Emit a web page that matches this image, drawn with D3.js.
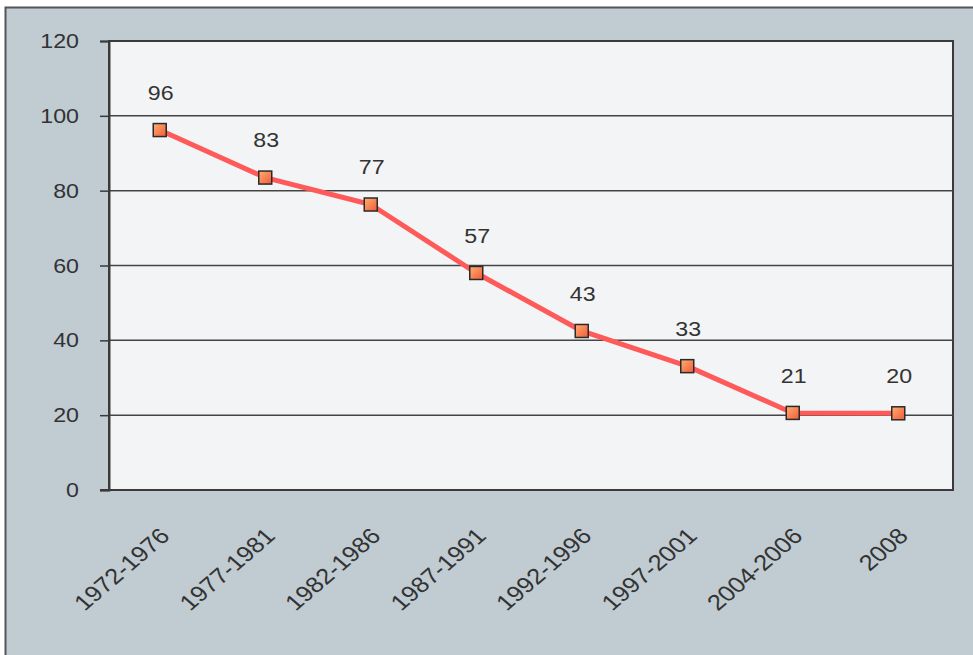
<!DOCTYPE html>
<html><head><meta charset="utf-8">
<script src="https://cdn.jsdelivr.net/npm/d3@7"></script>
<style>html,body{margin:0;padding:0;background:#fff;}svg{display:block;}</style>
</head><body>
<svg id="c" width="973" height="655"></svg>
<script>
const categories = ["1972-1976","1977-1981","1982-1986","1987-1991","1992-1996","1997-2001","2004-2006","2008"];
const values = [96.2, 83.5, 76.3, 58, 42.5, 33.1, 20.6, 20.5];
const labels = ["96","83","77","57","43","33","21","20"];
const yTicks = [0,20,40,60,80,100,120];

const svg = d3.select("#c");
const W = 973, H = 655;
const m = {left:109, right:953, top:41, bottom:490};
const FONT = "Liberation Sans, Arial, sans-serif";
const SX = 1.16;

// outer frame
svg.append("rect").attr("x",5.5).attr("y",7.5).attr("width",W+10).attr("height",H+10)
  .attr("fill","#c0cbd2").attr("stroke","#555").attr("stroke-width",2);

const x = d3.scaleBand().domain(categories).range([m.left, m.right]).paddingInner(0).paddingOuter(0);
const y = d3.scaleLinear().domain([0,120]).range([m.bottom, m.top]);

// plot area
svg.append("rect").attr("x",m.left).attr("y",m.top).attr("width",m.right-m.left).attr("height",m.bottom-m.top)
  .attr("fill","#f3f4f6").attr("stroke","#3a3a3a").attr("stroke-width",2);

// gridlines
svg.append("g").selectAll("line").data(yTicks.filter(t=>t>0 && t<120)).join("line")
  .attr("x1",m.left).attr("x2",m.right).attr("y1",d=>y(d)).attr("y2",d=>y(d))
  .attr("stroke","#444").attr("stroke-width",1.5);

// y axis (ticks + line)
const yAxis = svg.append("g").attr("transform",`translate(${m.left},0)`)
  .call(d3.axisLeft(y).tickValues(yTicks).tickSize(9).tickFormat(""));
yAxis.select(".domain").attr("stroke","#3a3a3a").attr("stroke-width",2);
yAxis.selectAll(".tick line").attr("stroke","#3a3a3a").attr("stroke-width",1.5);

// y tick labels (horizontally stretched like the reference)
svg.append("g").selectAll("text").data(yTicks).join("text")
  .attr("transform",d=>`translate(${m.left-30},${y(d)}) scale(${SX},1)`)
  .attr("text-anchor","end").attr("dy","0.35em")
  .attr("font-family",FONT).attr("font-size",20).attr("fill","#333")
  .text(d=>d3.format("d")(d));

// x axis bottom line
svg.append("line").attr("x1",m.left-9).attr("x2",m.right+1).attr("y1",m.bottom).attr("y2",m.bottom)
  .attr("stroke","#3a3a3a").attr("stroke-width",2);

// x labels rotated (picture stretched horizontally)
svg.append("g").selectAll("text").data(categories).join("text")
  .attr("transform",d=>`translate(${x(d)+x.bandwidth()/2+3},${m.bottom+42}) scale(${SX},1) rotate(-45)`)
  .attr("text-anchor","end").attr("dy","0.35em")
  .attr("font-family",FONT).attr("font-size",22).attr("fill","#333")
  .text(d=>d);

// gradient for markers
const defs = svg.append("defs");
const g = defs.append("linearGradient").attr("id","mk").attr("x1","0").attr("y1","0").attr("x2","1").attr("y2","1");
g.append("stop").attr("offset","0").attr("stop-color","#ffb070");
g.append("stop").attr("offset","1").attr("stop-color","#f05a3a");

const cx = d => x(d)+x.bandwidth()/2 - 2;
const pts = categories.map((c,i)=>[cx(c), y(values[i])]);

svg.append("path").attr("d", d3.line()(pts)).attr("fill","none")
  .attr("stroke","#ff5a5a").attr("stroke-width",5).attr("stroke-linejoin","round");

svg.append("g").selectAll("rect").data(pts).join("rect")
  .attr("x",d=>d[0]-6.5).attr("y",d=>d[1]-6.5).attr("width",13).attr("height",13)
  .attr("fill","url(#mk)").attr("stroke","#2a2a2a").attr("stroke-width",1.5);

svg.append("g").selectAll("text").data(categories).join("text")
  .attr("transform",(d,i)=>`translate(${cx(d)+1},${y(values[i]+10)}) scale(${SX},1)`)
  .attr("text-anchor","middle").attr("dy","0.35em")
  .attr("font-family",FONT).attr("font-size",20).attr("fill","#333")
  .text((d,i)=>labels[i]);
</script>
</body></html>
